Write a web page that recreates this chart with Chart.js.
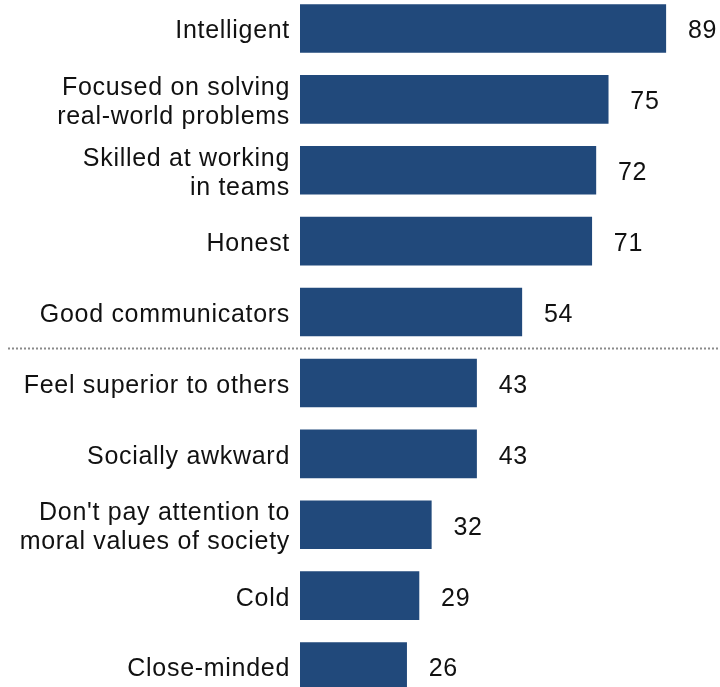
<!DOCTYPE html>
<html>
<head>
<meta charset="utf-8">
<script src="https://cdn.jsdelivr.net/npm/chart.js@4/dist/chart.umd.min.js"></script>
<style>
  html, body { margin: 0; padding: 0; background: #fff; overflow: hidden; }
  #wrap { position: absolute; left: 0; top: -7px; width: 720px; height: 709px; }
</style>
</head>
<body>
<div id="wrap"><canvas id="traits"></canvas></div>
<script>
const traits = [
  "Intelligent",
  ["Focused on solving", "real-world problems"],
  ["Skilled at working", "in teams"],
  "Honest",
  "Good communicators",
  "Feel superior to others",
  "Socially awkward",
  ["Don't pay attention to", "moral values of society"],
  "Cold",
  "Close-minded"
];
const shares = [89, 75, 72, 71, 54, 43, 43, 32, 29, 26];
// dotted separator goes after this many positive traits
const positiveCount = 5;

const FONT = "'Liberation Sans', Arial, sans-serif";
const BAR = "#21497b";
const TEXT = "#111";

// category labels, right aligned against the bars
const categoryLabels = {
  id: "categoryLabels",
  afterDraw(chart) {
    const ctx = chart.ctx;
    const y = chart.scales.y;
    ctx.save();
    ctx.letterSpacing = "0.7px";
    ctx.font = "25px " + FONT;
    ctx.fillStyle = TEXT;
    ctx.textAlign = "right";
    ctx.textBaseline = "middle";
    traits.forEach((label, i) => {
      const lines = Array.isArray(label) ? label : [label];
      const cy = y.getPixelForValue(i) + 3;
      lines.forEach((line, k) => {
        ctx.fillText(line, y.right - 10, cy + (k - (lines.length - 1) / 2) * 29);
      });
    });
    ctx.restore();
  }
};

// value labels, right edge a fixed distance past the bar end
const valueLabels = {
  id: "valueLabels",
  afterDatasetsDraw(chart) {
    const ctx = chart.ctx;
    const meta = chart.getDatasetMeta(0);
    ctx.save();
    ctx.letterSpacing = "0.7px";
    ctx.font = "25px " + FONT;
    ctx.fillStyle = TEXT;
    ctx.textAlign = "right";
    ctx.textBaseline = "middle";
    meta.data.forEach((bar, i) => {
      ctx.fillText(String(shares[i]), bar.x + 51, bar.y + 3);
    });
    ctx.restore();
  }
};

const separator = {
  id: "separator",
  afterDraw(chart) {
    const y = chart.scales.y;
    const yPos = (y.getPixelForValue(positiveCount - 1) + y.getPixelForValue(positiveCount)) / 2 + 1;
    const ctx = chart.ctx;
    ctx.save();
    ctx.strokeStyle = "#8a8a8a";
    ctx.lineWidth = 2;
    ctx.setLineDash([2, 2]);
    ctx.beginPath();
    ctx.moveTo(8, yPos);
    ctx.lineTo(720, yPos);
    ctx.stroke();
    ctx.restore();
  }
};

new Chart(document.getElementById("traits"), {
  type: "bar",
  data: {
    labels: traits,
    datasets: [{
      data: shares,
      backgroundColor: BAR,
      borderWidth: 0,
      barPercentage: 0.685,
      categoryPercentage: 1
    }]
  },
  options: {
    indexAxis: "y",
    responsive: true,
    maintainAspectRatio: false,
    animation: false,
    layout: { padding: 0 },
    plugins: {
      legend: { display: false },
      tooltip: { enabled: false }
    },
    scales: {
      x: {
        min: 0,
        max: 102.1,
        display: false
      },
      y: {
        afterFit(scale) {
          scale.width = 300;
          scale.paddingTop = 0;
          scale.paddingBottom = 0;
        },
        grid: { display: false, drawTicks: false },
        border: { display: false },
        ticks: { display: false }
      }
    }
  },
  plugins: [valueLabels, categoryLabels, separator]
});
</script>
</body>
</html>
